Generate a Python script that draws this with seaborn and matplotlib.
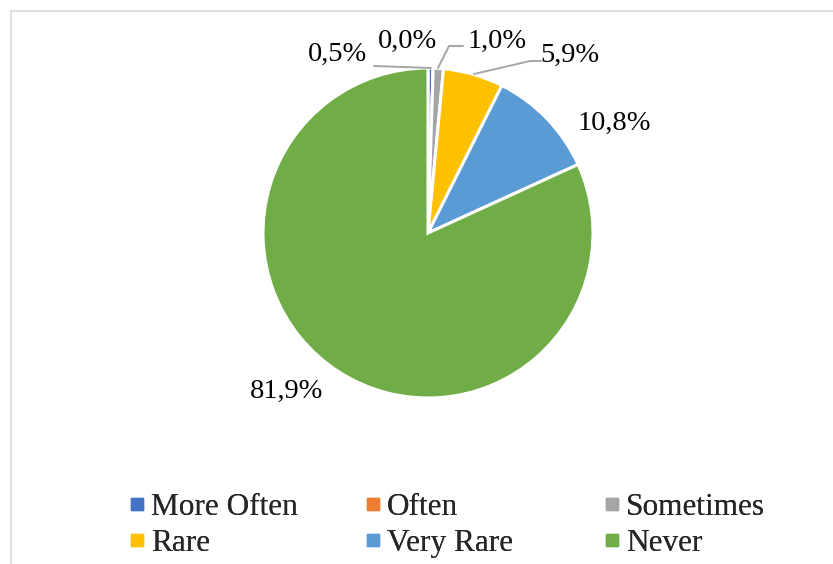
import matplotlib
matplotlib.use("Agg")
import matplotlib.pyplot as plt
from matplotlib.lines import Line2D
import seaborn as sns

categories = ["More Often", "Often", "Sometimes", "Rare", "Very Rare", "Never"]
shares = [0.5, 0.0, 1.0, 5.9, 10.8, 81.9]
labels = ["0,5%", "0,0%", "1,0%", "5,9%", "10,8%", "81,9%"]
colors = ["#4472C4", "#ED7D31", "#A5A5A5", "#FFC000", "#5B9BD5", "#70AD47"]

sns.set_theme(style="white")
plt.rcParams["font.family"] = ["Liberation Serif", "DejaVu Serif"]

W, H = 833, 564
fig = plt.figure(figsize=(W / 100, H / 100), dpi=100)

# pie centre and radius in pixels
cx, cy, r = 428, 233, 165
ax = fig.add_axes([(cx - r) / W, (H - cy - r) / H, 2 * r / W, 2 * r / H])
ax.pie(shares, colors=colors, startangle=90, counterclock=False,
       wedgeprops=dict(edgecolor="white", linewidth=2.2))
ax.set_xlim(-1, 1)
ax.set_ylim(-1, 1)
ax.set_aspect("equal")
ax.axis("off")


def d(px, py):
    return (px - cx) / r, (cy - py) / r


label_pos = [(337, 54), (407, 41), (497, 41), (570, 55), (614, 123), (287, 391)]
for txt, (px, py) in zip(labels, label_pos):
    x, y = d(px, py)
    ax.text(x, y, txt, ha="center", va="center", fontsize=20.5,
            color="#000000", clip_on=False)

# leader lines
leaders = [
    [(374, 66), (431, 68)],
    [(438, 68), (449, 46), (463, 46)],
    [(474, 74), (530, 61), (541, 61)],
]
for pts in leaders:
    xs, ys = zip(*[d(*p) for p in pts])
    ax.add_line(Line2D(xs, ys, color="#A6A6A6", lw=1.4, clip_on=False))

# chart-area border (top and left edges visible)
fig.add_artist(Line2D([10.5 / W, 10.5 / W], [0, (H - 10.5) / H],
                      transform=fig.transFigure, color="#D9D9D9", lw=1.2))
fig.add_artist(Line2D([10.5 / W, 1], [(H - 10.5) / H, (H - 10.5) / H],
                      transform=fig.transFigure, color="#D9D9D9", lw=1.2))

# legend: three columns of two entries each
columns = [(0, 3), (1, 4), (2, 5)]
col_x = [129, 365, 604]
for (i, j), xpx in zip(columns, col_x):
    handles = [Line2D([], [], marker="s", linestyle="none", markersize=8,
                      markerfacecolor=colors[k], markeredgecolor=colors[k])
               for k in (i, j)]
    leg = fig.legend(handles, [categories[i], categories[j]],
                     loc="upper left",
                     bbox_to_anchor=(xpx / W, (H - 493) / H),
                     frameon=False, fontsize=22.5, handlelength=0.5,
                     handletextpad=0.2, labelspacing=0.22,
                     borderpad=0, borderaxespad=0)
    fig.add_artist(leg)

fig.savefig("out.png", dpi=100, facecolor="white")
